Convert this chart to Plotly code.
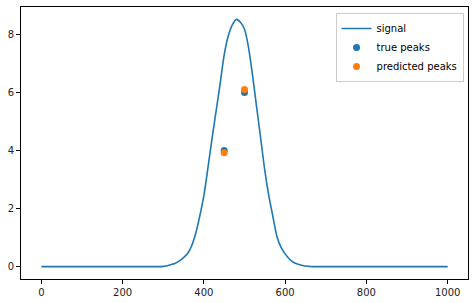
import plotly.graph_objects as go

# signal samples (x step 10)
signal_x = list(range(0, 1001, 10))
signal_core = {
    300: 0.01, 310: 0.03, 320: 0.07, 330: 0.12, 340: 0.20, 350: 0.31,
    360: 0.45, 370: 0.72, 380: 1.15, 390: 1.75, 400: 2.45, 410: 3.40,
    420: 4.40, 430: 5.35, 440: 6.30, 450: 7.30, 460: 7.95, 470: 8.33,
    480: 8.52, 490: 8.42, 500: 8.18, 510: 7.55, 520: 6.57, 530: 5.48,
    540: 4.40, 550: 3.31, 560: 2.43, 570: 1.72, 580: 1.03, 590: 0.66,
    600: 0.44, 610: 0.27, 620: 0.15, 630: 0.09, 640: 0.05, 650: 0.02,
    660: 0.01,
}
signal_y = [signal_core.get(x, 0.0) for x in signal_x]

true_x = [450, 500]
true_y = [4.0, 6.0]
pred_x = [450, 500]
pred_y = [3.92, 6.10]

x_ticks = [0, 200, 400, 600, 800, 1000]
y_ticks = [0, 2, 4, 6, 8]

fig = go.Figure()
fig.add_trace(go.Scatter(x=signal_x, y=signal_y, mode="lines", name="signal",
                         line=dict(color="#1f77b4", width=1.6, shape="spline",
                                   smoothing=0.7)))
fig.add_trace(go.Scatter(x=true_x, y=true_y, mode="markers", name="true peaks",
                         marker=dict(color="#1f77b4", size=7)))
fig.add_trace(go.Scatter(x=pred_x, y=pred_y, mode="markers", name="predicted peaks",
                         marker=dict(color="#ff7f0e", size=7)))

axis_common = dict(showline=True, linecolor="black", linewidth=1, mirror=True,
                   showgrid=False, zeroline=False, ticks="outside", ticklen=4,
                   tickcolor="black", tickwidth=1,
                   tickfont=dict(family="DejaVu Sans", size=10, color="#222222"))

fig.update_layout(
    width=474, height=303,
    margin=dict(l=21, r=6, t=7, b=24),
    plot_bgcolor="white", paper_bgcolor="white",
    xaxis=dict(range=[-50, 1050], tickvals=x_ticks, **axis_common),
    yaxis=dict(range=[-0.426, 8.946], tickvals=y_ticks, **axis_common),
    legend=dict(x=0.99, y=0.978, xanchor="right", yanchor="top",
                bgcolor="rgba(255,255,255,0.8)", bordercolor="#cccccc", borderwidth=1,
                font=dict(family="DejaVu Sans", size=10, color="black"),
                itemwidth=30, tracegroupgap=0),
    showlegend=True,
)

fig.write_html("out.html")
